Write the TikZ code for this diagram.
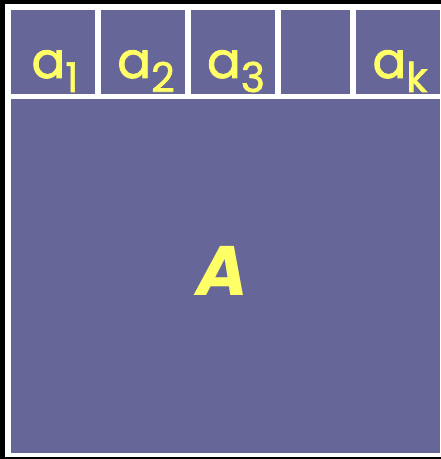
\documentclass[tikz,border=0pt]{standalone}
\usepackage{fontspec}
\setmainfont{Poppins}
\newfontfamily\labfont{Poppins}[FakeBold=1.6]
\definecolor{cellpurple}{RGB}{102,102,153}
\definecolor{labyellow}{RGB}{255,255,102}
\begin{document}
\begin{tikzpicture}[x=1pt,y=1pt,
  cell/.style={fill=cellpurple,draw=none,inner sep=0pt,outer sep=0pt},
  lab/.style={text=labyellow,inner sep=0pt,anchor=base,font=\labfont\fontsize{50}{50}\selectfont}]
\useasboundingbox (0,0) rectangle (441,459);
\fill[black] (0,0) rectangle (441,459);
\fill[white] (5,2) rectangle (441,455);
\node[cell,minimum width=84.3pt,minimum height=84.3pt] (c1) at (52.85,407.2) {};
\node[cell,minimum width=84.3pt,minimum height=84.3pt] (c2) at (142.85,407.2) {};
\node[cell,minimum width=84pt,minimum height=84.3pt] (c3) at (233,407.2) {};
\node[cell,minimum width=69.3pt,minimum height=84.3pt] (c4) at (315.35,407.2) {};
\node[cell,minimum width=84.3pt,minimum height=84.3pt] (c5) at (397.85,407.2) {};
\node[cell,minimum width=429.3pt,minimum height=354pt] (big) at (225.35,183) {};
\newcommand{\subx}[1]{\raisebox{-14pt}{\fontsize{41}{41}\selectfont #1}}
\node[lab] (l1) at (55,381) {a\subx{1}};
\node[lab] (l2) at (146,381) {a\subx{2}};
\node[lab] (l3) at (236,381) {a\subx{3}};
\node[lab] (lk) at (400,381) {a\subx{k}};
\node[text=labyellow,inner sep=0pt,anchor=base,font=\fontsize{70}{70}\selectfont\bfseries\itshape] (A) at (222,164) {A};
\end{tikzpicture}
\end{document}
